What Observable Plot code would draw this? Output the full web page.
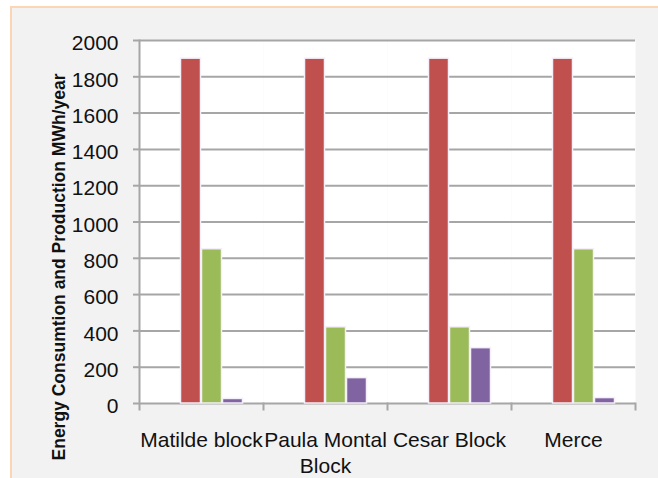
<!DOCTYPE html>
<html>
<head>
<meta charset="utf-8">
<script src="https://cdn.jsdelivr.net/npm/d3@7"></script>
<script src="https://cdn.jsdelivr.net/npm/@observablehq/plot@0.6"></script>
<style>
  html, body { margin: 0; padding: 0; background: #ffffff; overflow: hidden; width: 658px; height: 478px; }
  #bg { position: absolute; left: 10px; top: 6px; width: 720px; height: 520px; background: #f2f2f2;
        border-left: 2px solid #fcd5b4; border-top: 2px solid #fcd5b4; }
  #chart { position: absolute; left: 0; top: 0; }
</style>
</head>
<body>
<div id="bg"></div>
<div id="chart"></div>
<script>
const categories = ["Matilde block", "Paula Montal Block", "Cesar Block", "Merce"];
const categoryLabels = ["Matilde block", "Paula Montal\nBlock", "Cesar Block", "Merce"];
const seriesNames = ["Series 1", "Series 2", "Series 3", "Series 4"];
const seriesColors = ["#4f81bd", "#c0504d", "#9bbb59", "#8064a2"];
const series2 = [1900, 1900, 1900, 1900];
const series3 = [850, 420, 420, 850];
const series4 = [25, 140, 305, 30];
const yTicks = [0, 200, 400, 600, 800, 1000, 1200, 1400, 1600, 1800, 2000];
const yTitle = "Energy Consumtion and Production MWh/year";

const rows = [];
categories.forEach((c, i) => {
  rows.push({category: c, series: seriesNames[1], value: series2[i]});
  rows.push({category: c, series: seriesNames[2], value: series3[i]});
  rows.push({category: c, series: seriesNames[3], value: series4[i]});
});

const gridColor = "#a6a6a6";
const textColor = "#111111";

const chart = Plot.plot({
  width: 658,
  height: 478,
  marginLeft: 139,
  marginRight: 23,
  marginTop: 40,
  marginBottom: 75,
  style: {background: "transparent", fontFamily: "'Liberation Sans', Arial, sans-serif", overflow: "visible"},
  fx: {domain: categories, padding: 0, axis: null},
  x: {domain: seriesNames, paddingInner: 0, paddingOuter: 0.857, axis: null},
  y: {domain: [0, 2000]},
  color: {domain: seriesNames, range: seriesColors},
  marks: [
    Plot.frame({fill: "white", stroke: "none"}),
    Plot.gridY(yTicks, {stroke: gridColor, strokeOpacity: 1, strokeWidth: 2}),
    Plot.axisY(yTicks, {tickSize: 6, fill: "none", stroke: gridColor, strokeWidth: 2, label: null}),
    Plot.axisY(yTicks, {tickSize: 0, tickPadding: 21, stroke: "none", fill: textColor, fontSize: 21, dy: 3,
      tickFormat: d => String(d), label: null}),
    Plot.frame({anchor: "left", facetAnchor: "left", stroke: gridColor, strokeWidth: 2, insetBottom: -6}),
    Plot.frame({anchor: "right", stroke: gridColor, strokeWidth: 2, insetTop: 363, insetBottom: -6}),
    Plot.barY(rows, {fx: "category", x: "series", y: "value", fill: "series",
      stroke: "#f5eff9", strokeWidth: 1.5, insetLeft: 0.5, insetRight: 0.5}),
    Plot.text(categories, {fx: d => d, text: (d, i) => categoryLabels[i], frameAnchor: "bottom",
      lineAnchor: "top", dy: 24, fontSize: 21, lineHeight: 1.28, fill: textColor}),
    Plot.text([yTitle], {fx: () => categories[0], text: d => d, frameAnchor: "left", rotate: -90,
      dx: -75, dy: 45, lineAnchor: "bottom", textAnchor: "middle", fontWeight: "bold",
      fontSize: 17.5, fill: textColor})
  ]
});
document.getElementById("chart").appendChild(chart);
</script>
</body>
</html>
